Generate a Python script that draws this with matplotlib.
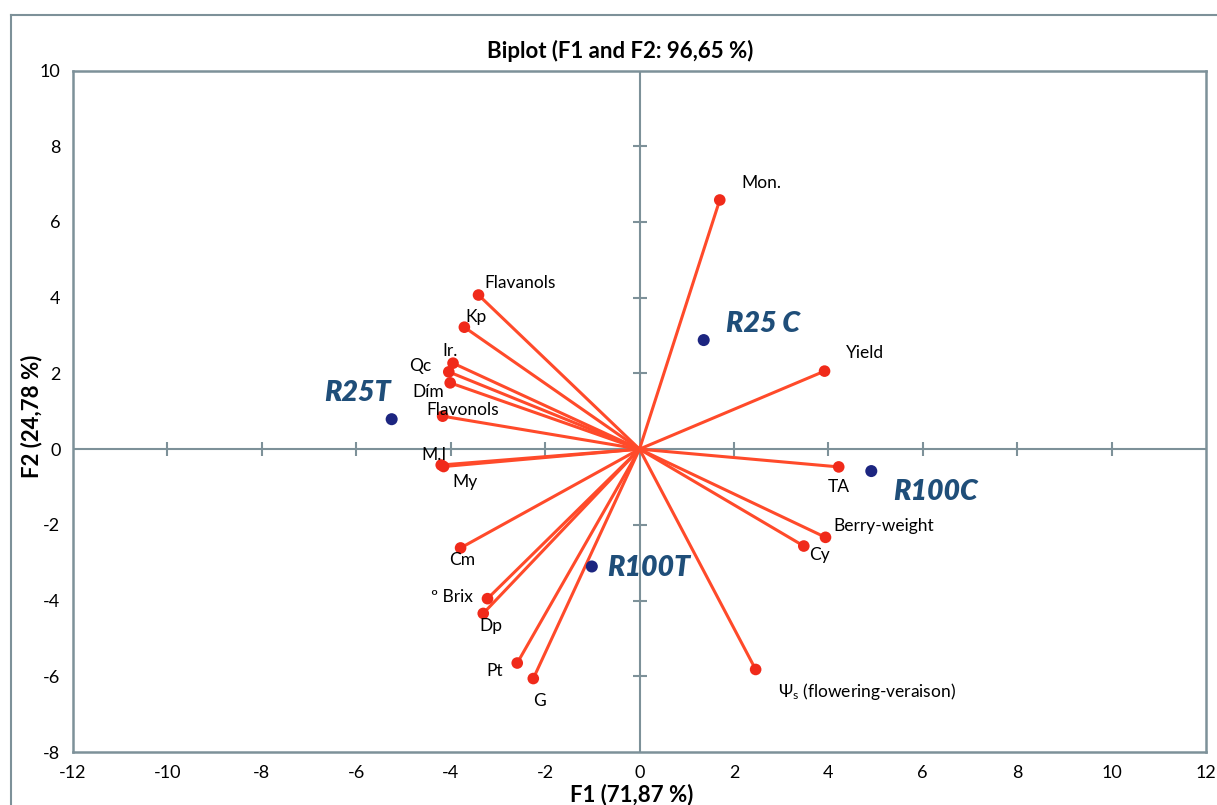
import matplotlib
matplotlib.use("Agg")
import matplotlib.pyplot as plt
from matplotlib.lines import Line2D

plt.rcParams['font.family'] = ['Lato', 'DejaVu Sans']
plt.rcParams['mathtext.fontset'] = 'custom'
plt.rcParams['mathtext.rm'] = 'Lato'
plt.rcParams['mathtext.it'] = 'Lato:italic'

# ---- data ----
var_names = ["Mon.", "Flavanols", "Kp", "Ir.", "Qc", "Dím", "Flavonols", "M.I", "My",
             "Cm", "º Brix", "Dp", "Pt", "G", "Yield", "TA", "Berry-weight", "Cy",
             "Ψ$_{\\mathrm{s}}$ (flowering-veraison)"]
var_f1 = [1.70, -3.41, -3.71, -3.95, -4.04, -4.01, -4.17, -4.20, -4.15,
          -3.79, -3.22, -3.31, -2.59, -2.25, 3.92, 4.22, 3.94, 3.48, 2.46]
var_f2 = [6.58, 4.07, 3.22, 2.27, 2.04, 1.75, 0.87, -0.42, -0.46,
          -2.61, -3.95, -4.34, -5.65, -6.06, 2.06, -0.47, -2.33, -2.56, -5.82]

obs_names = ["R25T", "R25 C", "R100T", "R100C"]
obs_f1 = [-5.25, 1.36, -1.01, 4.91]
obs_f2 = [0.79, 2.88, -3.10, -0.58]

x_ticks = list(range(-12, 13, 2))
y_ticks = list(range(-8, 11, 2))

title = "Biplot (F1 and F2: 96,65 %)"
xlabel = "F1 (71,87 %)"
ylabel = "F2 (24,78 %)"

# ---- label placement (pixel offsets, alignment) ----
var_lab = [(22, 17, 'left'), (6, 12, 'left'), (1, 10, 'left'), (-11, 12, 'left'),
           (-17, 6, 'right'), (-6, -9, 'right'), (-16, 6, 'left'), (5, 10, 'right'),
           (9, -15, 'left'), (-11, -12, 'left'), (-15, 2, 'right'), (-4, -13, 'left'),
           (-14, -8, 'right'), (6, -22, 'center'), (21, 18, 'left'), (-11, -20, 'left'),
           (8, 11, 'left'), (5, -9, 'left'), (22, -22, 'left')]
obs_lab = [(-1, 26, 'right'), (22, 16, 'left'), (15, -2, 'left'), (22, -21, 'left')]

W, H = 1217, 805
fig = plt.figure(figsize=(W / 100, H / 100), dpi=100)
fig.patch.set_facecolor('white')

gray = '#7d9199'
red_line = '#ff4a2a'
red_pt = '#f02a1a'
navy = '#1c2580'
label_blue = '#1f4e79'

# outer chart frame
fig.add_artist(Line2D([11 / W, 1.0], [1 - 15 / H, 1 - 15 / H], transform=fig.transFigure,
                      color=gray, lw=1.5))
fig.add_artist(Line2D([11 / W, 11 / W], [0, 1 - 15 / H], transform=fig.transFigure,
                      color=gray, lw=1.5))

ax = fig.add_axes([73 / W, 1 - 752 / H, (1206 - 73) / W, (752 - 70.5) / H])
ax.set_xlim(-12, 12)
ax.set_ylim(-8, 10)
for s in ax.spines.values():
    s.set_color(gray)
    s.set_linewidth(1.8)

ax.set_xticks(x_ticks)
ax.set_yticks(y_ticks)
ax.tick_params(length=0, labelsize=13, pad=9)
ax.set_xticklabels([str(t) for t in x_ticks])
ax.set_yticklabels([str(t) for t in y_ticks])
for lab in ax.get_yticklabels():
    lab.set_horizontalalignment('right')

# axes through origin with crossing tick marks
inner_x = [t for t in x_ticks if -12 < t < 12 and t != 0]
inner_y = [t for t in y_ticks if -8 < t < 10 and t != 0]
ax.axhline(0, color=gray, lw=1.5, zorder=1)
ax.axvline(0, color=gray, lw=1.5, zorder=1)
ax.plot(inner_x, [0] * len(inner_x), linestyle='none', marker='|', markersize=10,
        markeredgewidth=1.5, color=gray, zorder=1)
ax.plot([0] * len(inner_y), inner_y, linestyle='none', marker='_', markersize=10,
        markeredgewidth=1.5, color=gray, zorder=1)

# variable vectors
for xv, yv in zip(var_f1, var_f2):
    ax.plot([0, xv], [0, yv], color=red_line, lw=2.2, zorder=2, solid_capstyle='round')
ax.scatter(var_f1, var_f2, s=70, color=red_pt, zorder=3, edgecolors='none')

for name, xv, yv, (dx, dy, ha) in zip(var_names, var_f1, var_f2, var_lab):
    ax.annotate(name, (xv, yv), xytext=(dx, dy), textcoords='offset pixels',
                ha=ha, va='center', fontsize=12.5, color='black', zorder=4)

# observations
ax.scatter(obs_f1, obs_f2, s=75, color=navy, zorder=3, edgecolors='none')
for name, xv, yv, (dx, dy, ha) in zip(obs_names, obs_f1, obs_f2, obs_lab):
    ax.annotate(name, (xv, yv), xytext=(dx, dy), textcoords='offset pixels',
                ha=ha, va='center', fontsize=20.5, fontweight='heavy', fontstyle='italic',
                color=label_blue, zorder=4)

fig.text(620 / W, 1 - 51 / H, title, ha='center', va='center', fontsize=16, fontweight='bold')
fig.text(632 / W, 1 - 795 / H, xlabel, ha='center', va='center', fontsize=16, fontweight='bold')
fig.text(31.5 / W, 1 - 416 / H, ylabel, ha='center', va='center', fontsize=16,
         fontweight='bold', rotation=90)

fig.savefig('out.png', dpi=100, facecolor='white')
